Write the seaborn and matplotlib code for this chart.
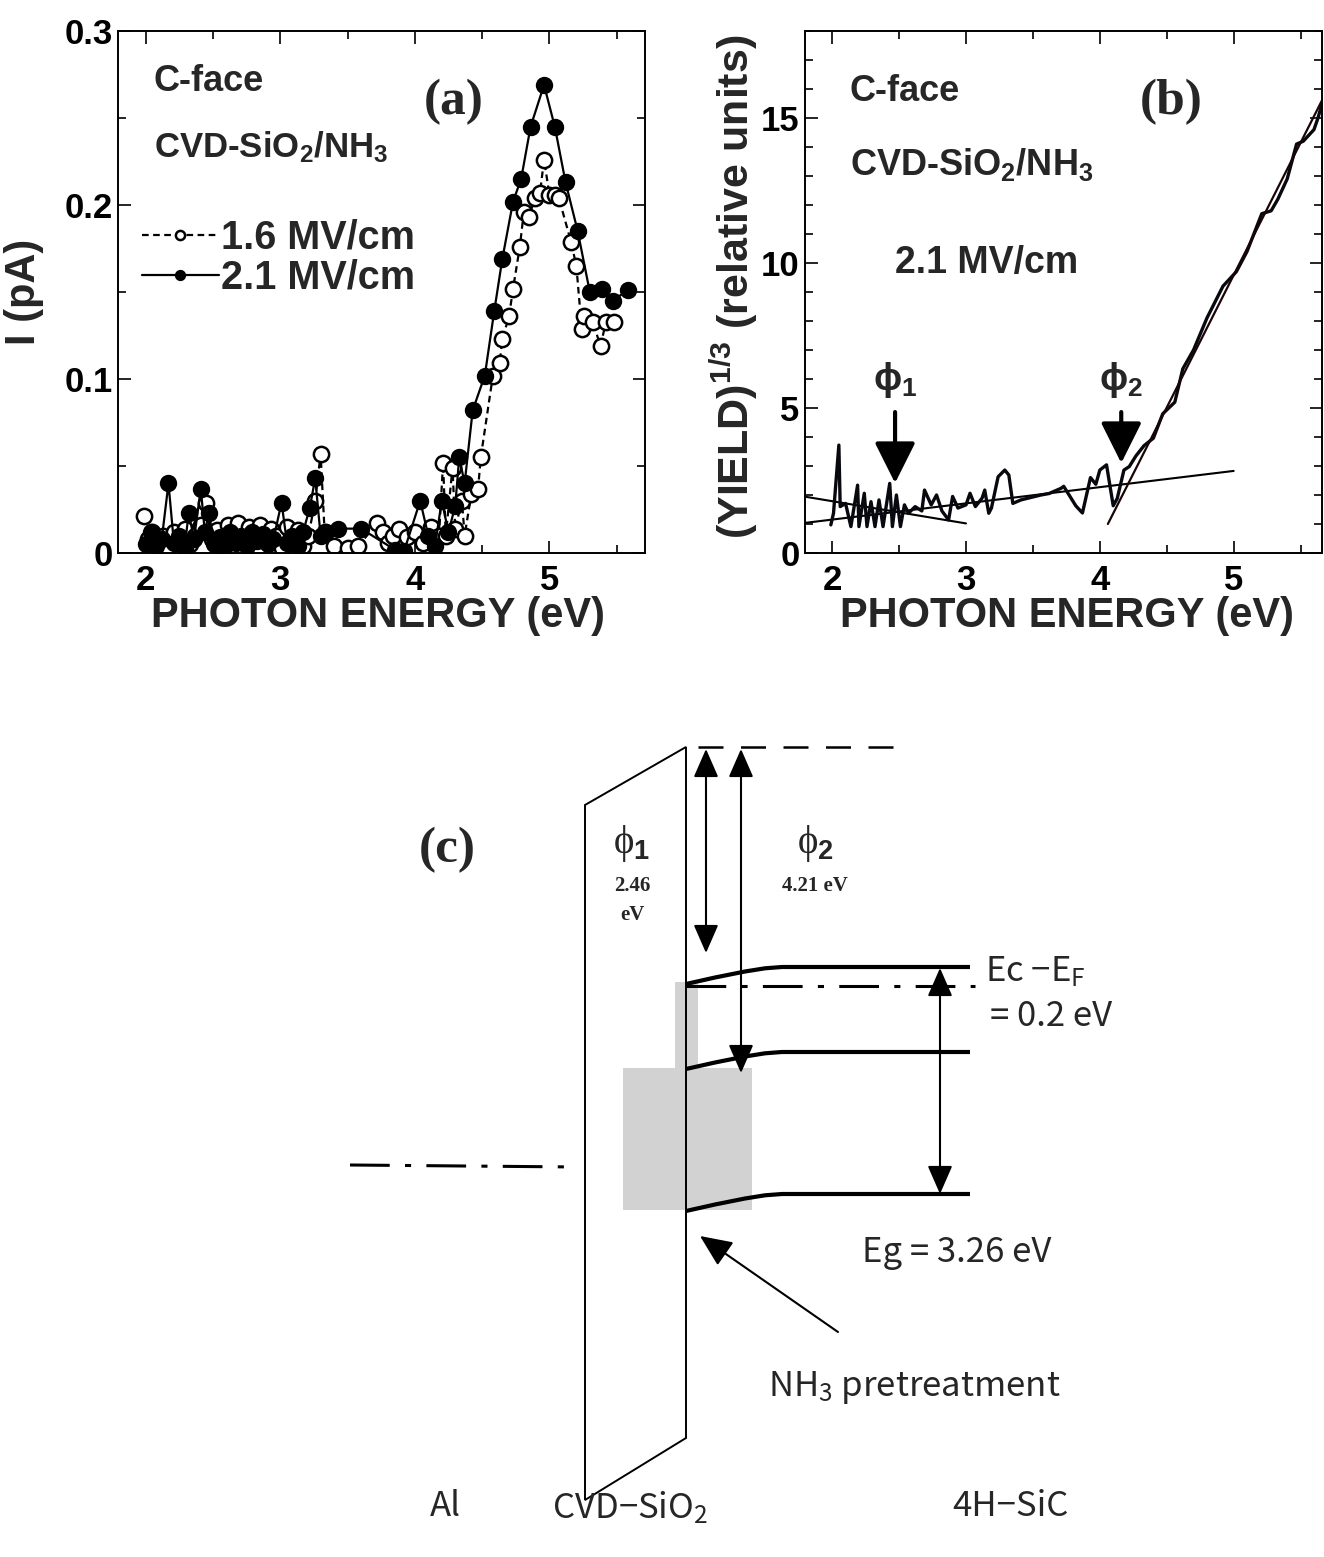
import numpy as np
import pandas as pd
import matplotlib
matplotlib.use("Agg")
import matplotlib.pyplot as plt
import seaborn as sns
from matplotlib.patches import Polygon, Rectangle, FancyArrowPatch
from matplotlib.ticker import MultipleLocator, FixedLocator, FixedFormatter

# ---------------- data: panel (a) photocurrent ----------------
e_16 = [1.99, 2.02, 2.05, 2.09, 2.13, 2.17, 2.21, 2.25, 2.29, 2.33, 2.37, 2.41, 2.45, 2.49, 2.53,
        2.57, 2.61, 2.65, 2.69, 2.73, 2.77, 2.81, 2.85, 2.89, 2.93, 2.97, 3.01, 3.05, 3.09, 3.13,
        3.17, 3.21, 3.26, 3.30, 3.33, 3.40, 3.50, 3.58, 3.72, 3.76, 3.80, 3.84, 3.88, 3.94, 4.00,
        4.06, 4.12, 4.18, 4.21, 4.23, 4.28, 4.30, 4.35, 4.37, 4.42, 4.47, 4.49, 4.58, 4.63, 4.65,
        4.70, 4.73, 4.78, 4.81, 4.85, 4.89, 4.93, 4.96, 5.00, 5.04, 5.07, 5.16, 5.20, 5.24, 5.26,
        5.32, 5.38, 5.42, 5.48]
i_16 = [0.021, 0.008, 0.012, 0.005, 0.010, 0.003, 0.012, 0.006, 0.014, 0.005, 0.010, 0.016, 0.029,
        0.008, 0.013, 0.004, 0.016, 0.010, 0.017, 0.006, 0.015, 0.009, 0.016, 0.007, 0.014, 0.010,
        0.003, 0.015, 0.006, 0.013, 0.004, 0.010, 0.030, 0.057, 0.012, 0.004, 0.003, 0.004, 0.017,
        0.012, 0.006, 0.010, 0.014, 0.009, 0.012, 0.006, 0.015, 0.010, 0.052, 0.010, 0.049, 0.014,
        0.030, 0.010, 0.034, 0.037, 0.055, 0.102, 0.109, 0.123, 0.136, 0.152, 0.176, 0.196, 0.193,
        0.204, 0.207, 0.226, 0.206, 0.206, 0.204, 0.179, 0.165, 0.129, 0.136, 0.133, 0.119, 0.133,
        0.133]
e_21 = [2.00, 2.04, 2.08, 2.12, 2.17, 2.21, 2.25, 2.29, 2.32, 2.36, 2.41, 2.44, 2.47, 2.51, 2.55,
        2.59, 2.63, 2.67, 2.71, 2.75, 2.79, 2.83, 2.87, 2.91, 2.95, 3.01, 3.05, 3.09, 3.13, 3.17,
        3.22, 3.26, 3.30, 3.34, 3.43, 3.60, 3.85, 3.92, 4.04, 4.10, 4.15, 4.20, 4.25, 4.30, 4.33,
        4.37, 4.43, 4.52, 4.59, 4.65, 4.73, 4.79, 4.86, 4.96, 5.04, 5.12, 5.21, 5.30, 5.39, 5.47,
        5.58]
i_21 = [0.005, 0.012, 0.004, 0.008, 0.040, 0.006, 0.010, 0.003, 0.023, 0.008, 0.037, 0.012, 0.023,
        0.005, 0.009, 0.004, 0.012, 0.006, 0.010, 0.004, 0.012, 0.007, 0.011, 0.005, 0.008, 0.029,
        0.006, 0.010, 0.004, 0.012, 0.026, 0.043, 0.010, 0.012, 0.014, 0.014, 0.002, 0.001, 0.030,
        0.010, 0.004, 0.030, 0.012, 0.027, 0.055, 0.040, 0.082, 0.102, 0.139, 0.169, 0.202, 0.215,
        0.245, 0.269, 0.245, 0.213, 0.185, 0.150, 0.152, 0.145, 0.151]
labels_a = ["1.6 MV/cm", "2.1 MV/cm"]

# ---------------- data: panel (b) yield^(1/3) ----------------
e_y = [1.99, 2.01, 2.05, 2.06, 2.10, 2.14, 2.19, 2.20, 2.24, 2.26, 2.29, 2.32, 2.35, 2.38, 2.43,
       2.45, 2.48, 2.51, 2.54, 2.57, 2.62, 2.67, 2.69, 2.74, 2.78, 2.82, 2.87, 2.90, 2.94, 3.00,
       3.03, 3.07, 3.12, 3.14, 3.17, 3.19, 3.24, 3.29, 3.32, 3.35, 3.41, 3.56, 3.62, 3.71, 3.73,
       3.82, 3.87, 3.93, 3.97, 4.00, 4.05, 4.10, 4.13, 4.18, 4.22, 4.27, 4.33, 4.40, 4.47, 4.56,
       4.62, 4.70, 4.80, 4.92, 5.02, 5.10, 5.21, 5.28, 5.33, 5.40, 5.47, 5.52, 5.60, 5.63, 5.67]
y_y = [0.97, 1.37, 3.72, 1.60, 1.71, 0.91, 2.34, 0.91, 2.06, 0.91, 1.77, 0.91, 1.83, 0.91, 2.40,
       0.91, 2.00, 0.91, 1.66, 1.37, 1.60, 1.45, 2.17, 1.66, 2.00, 1.45, 1.14, 1.95, 1.55, 1.66,
       2.06, 1.60, 1.89, 2.17, 1.37, 1.55, 2.63, 2.86, 2.69, 1.71, 1.83, 2.00, 2.05, 2.23, 2.30,
       1.63, 1.38, 2.60, 2.37, 2.86, 3.04, 1.63, 1.88, 2.86, 2.98, 3.35, 3.70, 3.96, 4.80, 5.20,
       6.35, 7.00, 8.10, 9.20, 9.70, 10.40, 11.70, 11.80, 12.20, 12.90, 14.10, 14.20, 14.60, 15.00,
       15.66]
fit1_x = [1.80, 3.00]
fit1_y = [1.94, 1.02]
fit2_x = [1.80, 5.00]
fit2_y = [1.04, 2.83]
fit3_x = [4.06, 5.67]
fit3_y = [1.00, 15.70]
phi_x = [2.47, 4.16]
phi_tip = [2.41, 3.10]

# ---------------- style ----------------
sns.set_theme(style="ticks")
plt.rcParams.update({
    "font.family": ["Liberation Sans", "DejaVu Sans"],
    "font.weight": "bold",
    "axes.labelweight": "bold",
    "mathtext.fontset": "custom",
    "mathtext.rm": "Liberation Sans:bold",
    "mathtext.sf": "Noto Sans CJK JP:weight=normal",
    "mathtext.it": "Liberation Serif:bold",
    "mathtext.bf": "Liberation Sans:bold",
    "mathtext.default": "rm",
    "xtick.direction": "in", "ytick.direction": "in",
    "xtick.top": True, "ytick.right": True,
    "xtick.major.size": 9, "ytick.major.size": 9,
    "xtick.minor.size": 5.5, "ytick.minor.size": 5.5,
    "xtick.major.width": 1.2, "ytick.major.width": 1.2,
    "xtick.minor.width": 1.2, "ytick.minor.width": 1.2,
    "axes.linewidth": 1.4,
    "xtick.labelsize": 25, "ytick.labelsize": 25,
    "xtick.major.pad": 8, "ytick.major.pad": 4,
    "axes.edgecolor": "black",
    "xtick.color": "black", "ytick.color": "black",
})

W, H = 1324, 1557
fig = plt.figure(figsize=(W / 100, H / 100), dpi=100)


def rect(l, t, r, b):
    return [l / W, 1 - b / H, (r - l) / W, (b - t) / H]


axa = fig.add_axes(rect(118, 31, 645, 553))
axb = fig.add_axes(rect(805, 31, 1322, 553))

# ---------------- panel (a) ----------------
df16 = pd.DataFrame({"E": e_16, "I": i_16})
df21 = pd.DataFrame({"E": e_21, "I": i_21})
sns.lineplot(data=df16, x="E", y="I", ax=axa, sort=False, estimator=None, color="black",
             linestyle=(0, (3, 2)), linewidth=1.6, marker="o", markersize=11,
             markerfacecolor="white", markeredgecolor="black", markeredgewidth=1.8)
sns.lineplot(data=df21, x="E", y="I", ax=axa, sort=False, estimator=None, color="black",
             linestyle="-", linewidth=1.6, marker="o", markersize=11,
             markerfacecolor="black", markeredgecolor="black", markeredgewidth=1.5)
axa.set_xlim(1.795, 5.71)
axa.set_ylim(0, 0.3)
axa.xaxis.set_major_locator(MultipleLocator(1))
axa.xaxis.set_minor_locator(MultipleLocator(0.5))
axa.yaxis.set_major_locator(FixedLocator([0, 0.1, 0.2, 0.3]))
axa.yaxis.set_major_formatter(FixedFormatter(["0", "0.1", "0.2", "0.3"]))
axa.yaxis.set_minor_locator(MultipleLocator(0.05))
axa.set_xlabel("PHOTON ENERGY (eV)", fontsize=30, fontweight="bold")
axa.set_ylabel("I (pA)", fontsize=30, fontweight="bold")
axa.xaxis.set_label_coords(0.493, -0.083)
axa.yaxis.set_label_coords(-0.14, 0.5)
axa.text(2.06, 0.271, "C-face", fontsize=26, fontweight="bold", ha="left", va="center")
axa.text(2.06, 0.233, "CVD-SiO$_2$/NH$_3$", fontsize=25, fontweight="bold", ha="left", va="center")
axa.text(4.29, 0.259, "(a)", fontsize=37, fontweight="bold", ha="center", va="center",
         family=["Liberation Serif", "DejaVu Serif"])
h_open, h_fill = axa.lines[0], axa.lines[1]
axa.legend([h_open, h_fill], labels_a, loc="upper left", bbox_to_anchor=(0.045, 0.64),
           frameon=False, handlelength=1.95, handletextpad=0.05, labelspacing=0.05,
           borderpad=0, borderaxespad=0, markerscale=0.6, prop={"weight": "bold", "size": 28.5})
for t in axa.get_xticklabels() + axa.get_yticklabels():
    t.set_fontweight("bold")

# ---------------- panel (b) ----------------
dfy = pd.DataFrame({"E": e_y, "Y": y_y})
sns.lineplot(data=pd.DataFrame({"E": fit1_x, "Y": fit1_y}), x="E", y="Y", ax=axb, sort=False,
             estimator=None, color="black", linewidth=1.5)
sns.lineplot(data=pd.DataFrame({"E": fit2_x, "Y": fit2_y}), x="E", y="Y", ax=axb, sort=False,
             estimator=None, color="black", linewidth=1.5)
sns.lineplot(data=dfy, x="E", y="Y", ax=axb, sort=False, estimator=None, color="#08080f",
             linewidth=2.4)
sns.lineplot(data=pd.DataFrame({"E": fit3_x, "Y": fit3_y}), x="E", y="Y", ax=axb, sort=False,
             estimator=None, color="#1a0505", linewidth=1.6)
axb.set_xlim(1.797, 5.66)
axb.set_ylim(0, 18)
axb.xaxis.set_major_locator(MultipleLocator(1))
axb.xaxis.set_minor_locator(MultipleLocator(0.5))
axb.yaxis.set_major_locator(FixedLocator([0, 5, 10, 15]))
axb.yaxis.set_minor_locator(MultipleLocator(1))
axb.set_xlabel("PHOTON ENERGY (eV)", fontsize=30, fontweight="bold")
axb.set_ylabel("(YIELD)$^{1/3}$ (relative units)", fontsize=31, fontweight="bold")
axb.xaxis.set_label_coords(0.506, -0.083)
axb.yaxis.set_label_coords(-0.088, 0.51)
axb.text(2.13, 15.9, "C-face", fontsize=26, fontweight="bold", ha="left", va="center")
axb.text(2.13, 13.4, "CVD-SiO$_2$/NH$_3$", fontsize=26, fontweight="bold", ha="left", va="center")
axb.text(2.47, 10.0, "2.1 MV/cm", fontsize=27, fontweight="bold", ha="left", va="center")
axb.text(4.53, 15.55, "(b)", fontsize=37, fontweight="bold", ha="center", va="center",
         family=["Liberation Serif", "DejaVu Serif"])
for k, (px, pt) in enumerate(zip(phi_x, phi_tip)):
    axb.annotate("", xy=(px, pt), xytext=(px, 4.86),
                 arrowprops=dict(arrowstyle="-|>,head_length=0.9,head_width=0.45", lw=3,
                                 color="black", mutation_scale=28, shrinkA=0, shrinkB=0))
    axb.text(px, 5.95, "ϕ$_%d$" % (k + 1), fontsize=27, fontweight="bold", ha="center",
             va="center", family=["Liberation Sans", "DejaVu Sans"])
for t in axb.get_xticklabels() + axb.get_yticklabels():
    t.set_fontweight("bold")

# ---------------- panel (c): band diagram (pixel coordinates) ----------------
axc = fig.add_axes([0, 0, 1, (H - 690) / H])
axc.set_xlim(0, W)
axc.set_ylim(H, 690)
axc.axis("off")

oxide = [(585, 805), (686, 747), (686, 1438), (585, 1500)]
gray_small = (675, 982, 23, 86)
gray_big = (623, 1068, 129, 142)
band_x = [686, 715, 745, 765, 782, 970]
band_dy = [17, 10.5, 4.5, 1.3, 0, 0]
band_levels = [967, 1052, 1194]

for (x0, y0, w, h) in [gray_small, gray_big]:
    axc.add_patch(Rectangle((x0, y0), w, h, facecolor="#d2d2d2", edgecolor="none", zorder=1))
axc.add_patch(Polygon(oxide, closed=True, fill=False, edgecolor="black", lw=1.4, zorder=3))
axc.plot([698, 905], [747, 747], color="black", lw=1.8, dashes=(10, 7))
for lev in band_levels:
    axc.plot(band_x, [lev + d for d in band_dy], color="black", lw=3, solid_capstyle="butt",
             zorder=4)
axc.plot([686, 975], [986, 986], color="black", lw=2.2, dashes=(13, 5, 2, 5))
axc.plot([350, 578], [1165, 1167], color="black", lw=2.2, dashes=(13, 5, 2, 5))


def dbl(x, y0, y1):
    axc.add_patch(FancyArrowPatch((x, y0), (x, y1), arrowstyle="<|-|>,head_length=0.8,head_width=0.35",
                                  mutation_scale=22, lw=1.5, color="black", shrinkA=0, shrinkB=0,
                                  zorder=5))


dbl(706, 749, 953)
dbl(741, 749, 1073)
dbl(940, 968, 1194)
axc.add_patch(FancyArrowPatch((838, 1332), (700, 1236), arrowstyle="-|>,head_length=0.9,head_width=0.4",
                              mutation_scale=22, lw=1.5, color="black", shrinkA=0, shrinkB=0))

serif = ["Liberation Serif", "DejaVu Serif"]
goth = ["Noto Sans CJK JP", "DejaVu Sans"]
fs_c = 25
axc.text(447, 850, "(c)", fontsize=37, fontweight="bold", family=serif, ha="center", va="center")
axc.text(632, 843, "ϕ$_\\mathit{1}$", fontsize=28, fontweight="normal", family=serif, ha="center", va="center")
axc.text(632, 886, "2.46", fontsize=15, fontweight="bold", family=serif, ha="center", va="center")
axc.text(632, 915, "eV", fontsize=15, fontweight="bold", family=serif, ha="center", va="center")
axc.text(815, 843, "ϕ$_\\mathit{2}$", fontsize=28, fontweight="normal", family=serif, ha="center", va="center")
axc.text(815, 886, "4.21 eV", fontsize=15, fontweight="bold", family=serif, ha="center", va="center")
axc.text(985, 972, "Ec −E$_\\mathsf{F}$", fontsize=fs_c, fontweight="normal", family=goth, ha="left", va="center")
axc.text(990, 1016, "= 0.2 eV", fontsize=fs_c, fontweight="normal", family=goth, ha="left", va="center")
axc.text(862, 1252, "Eg = 3.26 eV", fontsize=fs_c, fontweight="normal", family=goth, ha="left", va="center")
axc.text(768, 1388, "NH$_\\mathsf{3}$ pretreatment", fontsize=fs_c, fontweight="normal", family=goth,
         ha="left", va="center")
axc.text(445, 1506, "Al", fontsize=fs_c, fontweight="normal", family=goth, ha="center", va="center")
axc.text(630, 1508, "CVD−SiO$_\\mathsf{2}$", fontsize=fs_c, fontweight="normal", family=goth, ha="center",
         va="center")
axc.text(1010, 1506, "4H−SiC", fontsize=fs_c, fontweight="normal", family=goth, ha="center", va="center")

fig.savefig("out.png", dpi=100)
